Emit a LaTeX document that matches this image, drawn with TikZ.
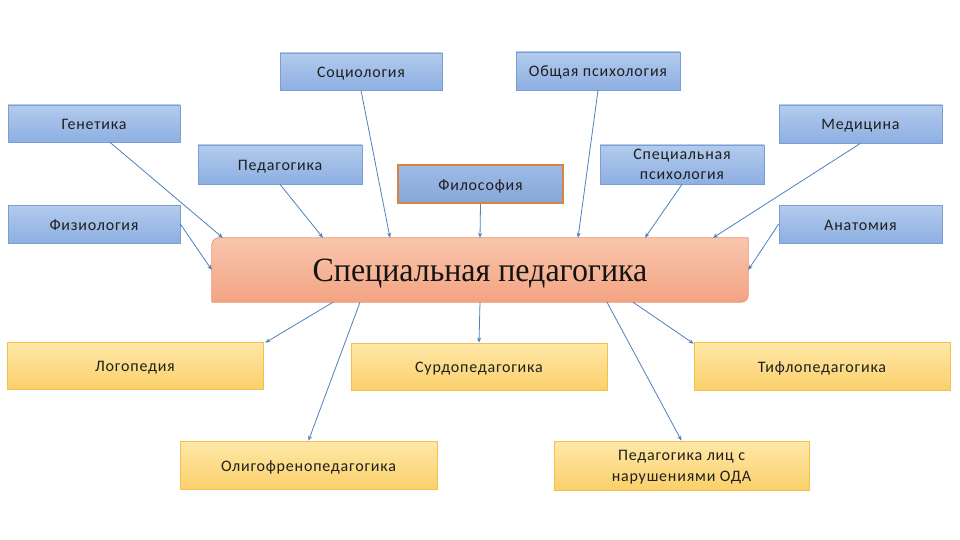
\documentclass[tikz,border=0pt]{standalone}
\usepackage{fontspec}
\setmainfont{Carlito}[LetterSpace=5]
\newfontfamily\timesf{Liberation Serif}
\usetikzlibrary{arrows.meta,backgrounds}
\definecolor{bluetop}{HTML}{B3CBED}
\definecolor{bluebot}{HTML}{8DAFE2}
\definecolor{blueline}{HTML}{7A9FD0}
\definecolor{yeltop}{HTML}{FEE8A8}
\definecolor{yelbot}{HTML}{FBD06B}
\definecolor{yelline}{HTML}{F3C04E}
\definecolor{ortop}{HTML}{F9C6AE}
\definecolor{orbot}{HTML}{F3A381}
\definecolor{orline}{HTML}{E8946C}
\definecolor{filline}{HTML}{D8833F}
\definecolor{arrowc}{HTML}{4F81BD}
\begin{document}
\begin{tikzpicture}[x=1pt,y=-1pt,
  boxtext/.style={inner sep=2pt, align=center, font=\fontsize{16}{21}\selectfont, text=black!88, text height=12pt, text depth=0pt},
  twolines/.style={text height=, text depth=0pt},
  bluebox/.style={boxtext, draw=blueline, line width=0.7pt, top color=bluetop, bottom color=bluebot},
  yelbox/.style={boxtext, draw=yelline, line width=0.7pt, top color=yeltop, bottom color=yelbot, minimum width=256pt},
  conn/.style={draw=arrowc, line width=0.8pt, -{Stealth[length=5pt,width=4pt]}}]
\useasboundingbox (0,0) rectangle (960,540);

% top nodes
\node[bluebox, minimum width=162pt, minimum height=37pt] (soc) at (361,71.5) {Социология};
\node[bluebox, minimum width=164pt, minimum height=38pt] (obsh) at (598,71) {Общая психология};
\node[bluebox, minimum width=172pt, minimum height=37pt] (gen) at (94,123.5) {Генетика};
\node[bluebox, minimum width=163pt, minimum height=38pt] (med) at (860.5,124) {Медицина};
\node[bluebox, minimum width=164pt, minimum height=39pt] (ped) at (280,164.5) {Педагогика};
\node[bluebox, minimum width=165pt, minimum height=38pt, draw=filline, line width=2pt, top color=bluebot!85!white, bottom color=bluebot!95!black] (fil) at (480.5,184) {Философия};
\node[bluebox, twolines, minimum width=164pt, minimum height=39pt, font=\fontsize{16}{20}\selectfont] (sp) at (682,164.5) {Специальная\\психология};
\node[bluebox, minimum width=172pt, minimum height=38pt] (fiz) at (94,224) {Физиология};
\node[bluebox, minimum width=163pt, minimum height=38pt] (anat) at (860.5,224) {Анатомия};

% central node
\node[minimum width=536pt, minimum height=64pt, inner sep=0pt, font=\timesf\fontsize{34}{36}\selectfont, text=black!92, text height=22.5pt, text depth=0pt] (c) at (480,270) {\scalebox{0.94}[1]{Специальная педагогика}};
\begin{scope}[on background layer]
\fill[white] (0,0) rectangle (960,540);
\shade[top color=ortop, bottom color=orbot, draw=orline, line width=0.8pt]
  (c.south west) -- ([yshift=-7pt]c.north west) arc[start angle=180, end angle=90, radius=7pt]
  -- (c.north east) -- ([yshift=7pt]c.south east) arc[start angle=0, end angle=-90, radius=7pt]
  -- cycle;
\end{scope}

% bottom nodes
\node[yelbox, minimum height=47pt] (log) at (135,365.5) {Логопедия};
\node[yelbox, minimum height=47pt] (surd) at (479,366.5) {Сурдопедагогика};
\node[yelbox, minimum height=48pt] (tif) at (822,366) {Тифлопедагогика};
\node[yelbox, minimum height=48pt, minimum width=257pt] (olig) at (308.5,465) {Олигофренопедагогика};
\node[yelbox, twolines, minimum height=49pt, minimum width=255pt] (oda) at (681.5,465.5) {Педагогика лиц с\\нарушениями ОДА};

% incoming connectors
\draw[conn] (soc.south) -- ([xshift=-90pt]c.north);
\draw[conn] (obsh.south) -- ([xshift=98pt]c.north);
\draw[conn] ([xshift=16pt]gen.south) -- ([xshift=11pt]c.north west);
\draw[conn] (med.south) -- ([xshift=233pt]c.north);
\draw[conn] (ped.south) -- ([xshift=-157pt]c.north);
\draw[conn] (fil.south) -- (c.north);
\draw[conn] (sp.south) -- ([xshift=165pt]c.north);
\draw[conn] (fiz.east) -- (c.west);
\draw[conn] (anat.west) -- (c.east);

% outgoing connectors
\draw[conn] ([xshift=-147pt]c.south) -- ([xshift=2pt,yshift=-1pt]log.north east);
\draw[conn] (c.south) -- (surd.north);
\draw[conn] ([xshift=153pt]c.south) -- ([yshift=-2pt]tif.north west);
\draw[conn] ([xshift=-120pt]c.south) -- (olig.north);
\draw[conn] ([xshift=127pt]c.south) -- (oda.north);
\end{tikzpicture}
\end{document}
